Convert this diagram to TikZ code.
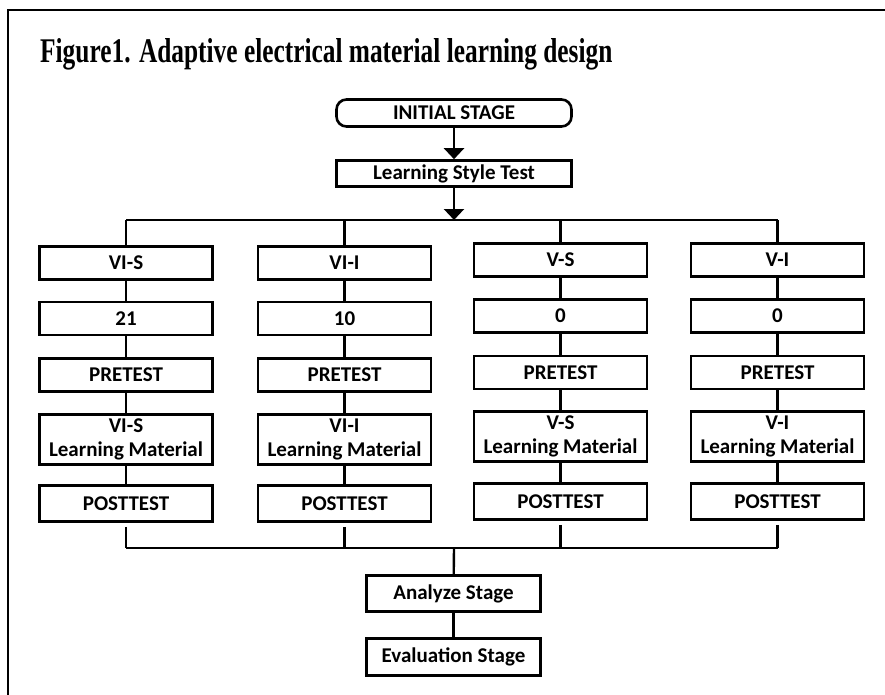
\documentclass[tikz,border=0pt]{standalone}
\usepackage{fontspec}
\setmainfont{Liberation Serif}
\newfontfamily\boxfont{Carlito}
\usetikzlibrary{arrows.meta}
\begin{document}
\begin{tikzpicture}[x=1pt,y=-1pt,
  box/.style={draw, line width=2.6pt, minimum width=173pt, minimum height=33pt,
    inner sep=0pt, align=center, font=\boxfont\bfseries\fontsize{21}{24}\selectfont},
  lmbox/.style={box, minimum height=50pt},
  ptbox/.style={box, minimum height=36pt},
  topbox/.style={box, minimum width=235pt, minimum height=27pt},
  endbox/.style={box, minimum width=174pt, minimum height=36pt},
  conn/.style={line width=2.4pt},
  arr/.style={conn, -{Triangle[width=20pt,length=11pt]}},
  frame/.style={line width=1.2pt}
]
\useasboundingbox (0,0) rectangle (885,695);
\draw[frame] (8,695) -- (8,10) -- (885,10);

\node[anchor=base west, inner sep=0pt] (title) at (40,63)
  {\resizebox{572pt}{24pt}{\bfseries Figure1. Adaptive electrical material learning design}};

\node[topbox, rounded corners=10pt] (init) at (454,113) {INITIAL STAGE};
\node[topbox, minimum height=26pt] (lst) at (454,173.5) {Learning Style Test};
\coordinate (br) at (454,220);

% column 1
\node[box] (a1) at (126,263) {VI-S};
\node[box] (a2) at (126,318.5) {21};
\node[box] (a3) at (126,375) {PRETEST};
\node[lmbox] (a4) at (126,439.5) {VI-S\\Learning Material};
\node[ptbox] (a5) at (126,503.5) {POSTTEST};
% column 2
\node[box] (b1) at (344.5,263) {VI-I};
\node[box] (b2) at (344.5,318.5) {10};
\node[box] (b3) at (344.5,375) {PRETEST};
\node[lmbox] (b4) at (344.5,439.5) {VI-I\\Learning Material};
\node[ptbox] (b5) at (344.5,503.5) {POSTTEST};
% column 3
\node[box] (c1) at (560.5,260) {V-S};
\node[box] (c2) at (560.5,316) {0};
\node[box] (c3) at (560.5,372.5) {PRETEST};
\node[lmbox] (c4) at (560.5,436.5) {V-S\\Learning Material};
\node[ptbox] (c5) at (560.5,501.5) {POSTTEST};
% column 4
\node[box] (d1) at (777.5,260) {V-I};
\node[box] (d2) at (777.5,316) {0};
\node[box] (d3) at (777.5,372.5) {PRETEST};
\node[lmbox] (d4) at (777.5,436.5) {V-I\\Learning Material};
\node[ptbox] (d5) at (777.5,501.5) {POSTTEST};

\coordinate (jn) at (454,548);
\node[endbox] (ana) at (453.5,593.5) {Analyze Stage};
\node[endbox, minimum height=37pt] (eva) at (453.5,657) {Evaluation Stage};

% arrows at top
\draw[arr] (init) -- (lst);
\draw[arr] (lst) -- (br);
\draw[conn] (a1.north |- br) -- (d1.north |- br);
\foreach \c in {a,b,c,d} {
  \draw[conn] (\c1.north |- br) -- (\c1.north);
  \draw[conn] (\c1) -- (\c2);
  \draw[conn] (\c2) -- (\c3);
  \draw[conn] (\c3) -- (\c4);
  \draw[conn] (\c4) -- (\c5);
  \draw[conn, shorten <=4pt] (\c5.south) -- (\c5.south |- jn);
}
\draw[conn] (a5.south |- jn) -- (d5.south |- jn);
\draw[conn] (jn) -- (ana);
\draw[conn] (ana) -- (eva);
\end{tikzpicture}
\end{document}
